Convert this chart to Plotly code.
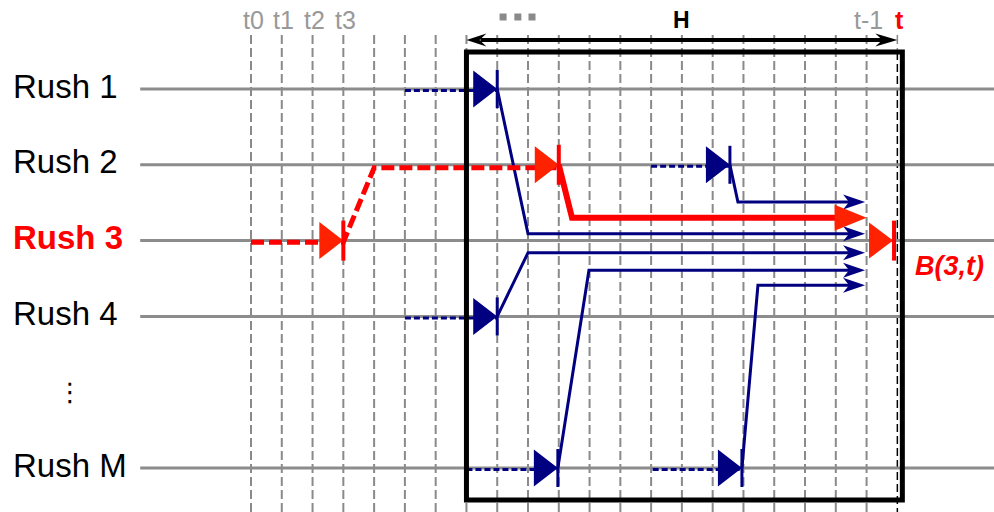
import plotly.graph_objects as go

# axes: time steps along x, rush index down y (reversed)
X_RANGE = [-8.155, 24.14]
Y_RANGE = [6.58, -0.174]
WIDTH, HEIGHT = 994, 512
PX_T = WIDTH / (X_RANGE[1] - X_RANGE[0])
PX_ROW = HEIGHT / (Y_RANGE[0] - Y_RANGE[1])

# time grid
STEPS = list(range(22))  # t0 .. t
TOP_LABELS = ["t0", "t1", "t2", "t3", "t-1", "t"]
TOP_LABEL_T = [0, 1, 2, 3, 20, 21]
DOTS_T = [8.19, 8.67, 9.13]
H_START = 7
H_END = 21

# rush rows
RUSH_LABELS = ["Rush 1", "Rush 2", "Rush 3", "Rush 4", "⋮", "Rush M"]
RUSH_ROWS = [1, 2, 3, 4, 5, 6]
TRACK_ROWS = [1, 2, 3, 4, 6]
TARGET_ROW = 3

# blue rushes merging into the rush 3 buffer
BLUE_ROW = [1, 2, 4, 6, 6]
BLUE_WAIT_FROM = [5, 13, 5, 7, 13.05]
BLUE_ARRIVE = [8, 15.56, 8, 9.97, 15.95]
BLUE_JUMP_T = [9, 15.82, 9, 10.98, 16.47]
BLUE_JUMP_ROW = [2.91, 2.49, 3.16, 3.39, 3.59]
BLUE_TIP_T = [19.95, 19.95, 19.95, 19.95, 19.95]

# red rush path
RED_WAIT_T = [0, 3, 4, 10]
RED_WAIT_ROW = [3.02, 3.02, 2.04, 2.04]
RED_ARRIVE_T = [3, 10]
RED_ARRIVE_ROW = [3, 2]
RED_MOVE_T = [10, 10.43, 20.0]
RED_MOVE_ROW = [2, 2.7, 2.7]
B_T = 20.86

NAVY = "#000080"
RED = "#ff0000"
RED_TRI = "#ff2200"
GRAY = "#8c8c8c"
FONT = "Liberation Sans, Arial, sans-serif"


def dx(px):
    return px / PX_T


def dy(px):
    return px / PX_ROW


def tri(tip, row, w, h):
    b = tip - dx(w)
    return ([b, tip, b, b, None],
            [row - dy(h) / 2, row, row + dy(h) / 2, row - dy(h) / 2, None])


def head(tip, row, l, h, notch, sign=1):
    b = tip - sign * dx(l)
    return ([b, tip, b, b + sign * dx(notch), b, None],
            [row - dy(h) / 2, row, row + dy(h) / 2, row, row - dy(h) / 2, None])


def bar(t, row, h):
    return [t, t, None], [row - dy(h) / 2, row + dy(h) / 2, None]


def join(parts):
    xs, ys = [], []
    for px, py in parts:
        xs += px
        ys += py
    return xs, ys


def line(xs, ys, color, width, dash="solid"):
    return go.Scatter(x=xs, y=ys, mode="lines", hoverinfo="skip",
                      line=dict(color=color, width=width, dash=dash))


def poly(xs, ys, color):
    return go.Scatter(x=xs, y=ys, mode="lines", fill="toself", fillcolor=color,
                      hoverinfo="skip", line=dict(width=0, color=color))


fig = go.Figure()

# vertical time grid
grid_top = 1 + dy(35 - 89)
box_top = 1 + dy(52 - 89)
box_bottom = 1 + dy(500 - 89)
gx, gy = join([([t, t, None], [grid_top, Y_RANGE[0], None]) for t in STEPS[:-1]])
fig.add_trace(line(gx, gy, "#8a8a8a", 2, "9px,4px"))
fig.add_trace(line([H_END, H_END], [grid_top, box_top], "#8a8a8a", 1.5, "9px,4px"))
fig.add_trace(line([H_END, H_END], [box_top, Y_RANGE[0]], "black", 1.5, "8px,4px"))

# rush tracks
tx, ty = join([([-3.6, X_RANGE[1], None], [r, r, None]) for r in TRACK_ROWS])
fig.add_trace(line(tx, ty, GRAY, 3))

# blue waits, transfers, heads
wx, wy = join([([a, b, None], [r + dy(1.5), r + dy(1.5), None])
               for a, b, r in zip(BLUE_WAIT_FROM, BLUE_ARRIVE, BLUE_ROW)])
fig.add_trace(line(wx, wy, NAVY, 3, "6px,3px"))
mx, my = join([([a, jt, tip - dx(15), None], [r, jr, jr, None])
               for a, jt, jr, tip, r in zip(BLUE_ARRIVE, BLUE_JUMP_T, BLUE_JUMP_ROW, BLUE_TIP_T, BLUE_ROW)])
fig.add_trace(line(mx, my, NAVY, 3))
px_, py_ = join([tri(a, r, 24, 37) for a, r in zip(BLUE_ARRIVE, BLUE_ROW)]
                + [head(tip, jr, 22, 15, 6) for tip, jr in zip(BLUE_TIP_T, BLUE_JUMP_ROW)])
fig.add_trace(poly(px_, py_, NAVY))
bx, by = join([bar(a, r, 38) for a, r in zip(BLUE_ARRIVE, BLUE_ROW)])
fig.add_trace(line(bx, by, NAVY, 3))

# red path
fig.add_trace(line(RED_WAIT_T, RED_WAIT_ROW, RED, 5, "13px,5px"))
fig.add_trace(line(RED_MOVE_T[:-1] + [RED_MOVE_T[-1] - dx(28)], RED_MOVE_ROW, RED, 6))
rx, ry = join([tri(a, r, 24, 37) for a, r in zip(RED_ARRIVE_T, RED_ARRIVE_ROW)]
              + [tri(RED_MOVE_T[-1], RED_MOVE_ROW[-1], 32, 26), tri(B_T, TARGET_ROW, 24, 36)])
fig.add_trace(poly(rx, ry, RED_TRI))
rbx, rby = join([bar(a, r, 40) for a, r in zip(RED_ARRIVE_T, RED_ARRIVE_ROW)]
                + [bar(B_T + dx(1), TARGET_ROW, 40)])
fig.add_trace(line(rbx, rby, RED, 4))

# H window arrow
h_row = 1 + dy(40 - 89)
fig.add_trace(line([H_START + dx(14), H_END - dx(14)], [h_row, h_row], "black", 4))
hx, hy = join([head(H_END, h_row, 22, 13, 7), head(H_START, h_row, 20, 13, 7, sign=-1)])
fig.add_trace(poly(hx, hy, "black"))

# "..." above window start
fig.add_trace(go.Scatter(x=DOTS_T, y=[1 + dy(17 - 89)] * 3, mode="markers", hoverinfo="skip",
                         marker=dict(symbol="square", size=7, color="#8a8a8a")))

# H window box
fig.add_shape(type="rect", x0=H_START, x1=H_END + dx(5), y0=box_top, y1=box_bottom,
              line=dict(color="black", width=5), layer="above")

# texts
label_row = 1 + dy(20 - 89)
for lab, t in zip(TOP_LABELS, TOP_LABEL_T):
    red = lab == "t"
    fig.add_annotation(x=t + dx(2), y=label_row, text=f"<b>{lab}</b>" if red else lab,
                       showarrow=False, xanchor="center", yanchor="middle",
                       font=dict(family=FONT, size=25, color=RED if red else "#999999"))
fig.add_annotation(x=14, y=label_row, text="<b>H</b>", showarrow=False,
                   font=dict(family=FONT, size=23, color="black"))

for lab, r in zip(RUSH_LABELS, RUSH_ROWS):
    if lab == "⋮":
        fig.add_annotation(x=dx(70) + X_RANGE[0], y=r, text=lab, showarrow=False,
                           font=dict(family="DejaVu Sans", size=26, color="black"))
        continue
    hot = r == TARGET_ROW
    fig.add_annotation(x=X_RANGE[0] + dx(11), y=r - dy(3),
                       text=f"<b>{lab}</b>" if hot else lab, showarrow=False,
                       xanchor="left", yanchor="middle",
                       font=dict(family=FONT, size=33, color=RED if hot else "black"))

fig.add_annotation(x=B_T + dx(20), y=TARGET_ROW + dy(25), text="<b><i>B(3,t)</i></b>",
                   showarrow=False, xanchor="left", yanchor="middle",
                   font=dict(family=FONT, size=27, color=RED))

fig.update_layout(
    width=WIDTH, height=HEIGHT,
    margin=dict(l=0, r=0, t=0, b=0),
    paper_bgcolor="white", plot_bgcolor="white",
    showlegend=False,
    xaxis=dict(range=X_RANGE, visible=False, fixedrange=True),
    yaxis=dict(range=Y_RANGE, visible=False, fixedrange=True),
)

fig.write_html("out.html", config={"displayModeBar": False},
               post_script="document.body.style.margin='0';")
